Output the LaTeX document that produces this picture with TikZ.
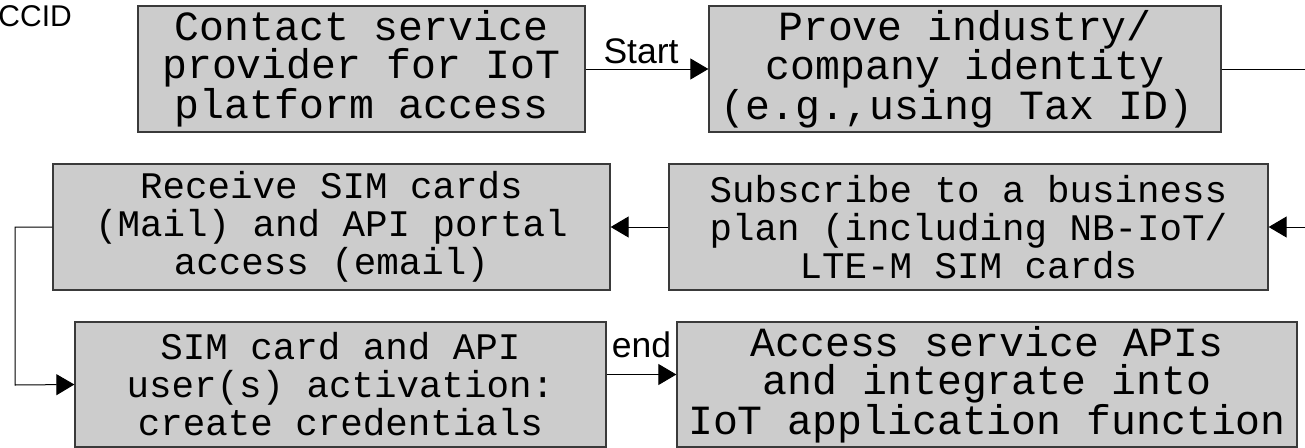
\documentclass[tikz,border=0pt]{standalone}
\usepackage{fontspec}
\newfontfamily\boxfont{Liberation Mono}
\newfontfamily\labfont{Liberation Sans}
\usetikzlibrary{arrows.meta}
\definecolor{boxfill}{HTML}{CCCCCC}
\definecolor{boxline}{HTML}{3A3A3A}
\tikzset{
  stepbox/.style={draw=boxline, line width=1.3pt, fill=boxfill, inner sep=0pt,
    align=center, font=\boxfont\fontsize{41.5}{38}\selectfont, text=black},
  smallbox/.style={stepbox, font=\boxfont\fontsize{37.5}{38}\selectfont},
  link/.style={draw=black, line width=1pt},
  arr/.style={link, -{Triangle[length=18pt,width=21pt]}},
  lab/.style={font=\labfont\fontsize{35.5}{38}\selectfont, text=black, inner sep=0pt}
}
\begin{document}
\begin{tikzpicture}[x=1pt,y=-1pt]
\useasboundingbox (0,0) rectangle (1305,447);

% process steps
\node[stepbox, minimum width=447pt, minimum height=126pt] (b1) at (361.5,69)
  {Contact service\\provider for IoT\\platform access};
\node[stepbox, minimum width=512pt, minimum height=126pt] (b2) at (965,69)
  {Prove industry/\\company identity\\(e.g.,using Tax ID)\hspace*{16pt}};
\node[smallbox, minimum width=557pt, minimum height=126pt] (b3) at (331.5,227)
  {Receive SIM cards\\(Mail) and API portal\\access (email)};
\node[smallbox, minimum width=599pt, minimum height=126pt] (b4) at (968.5,227)
  {Subscribe to a business\\plan (including NB-IoT/\\LTE-M SIM cards};
\node[smallbox, minimum width=531pt, minimum height=125pt] (b5) at (340.5,384.5)
  {SIM card and API\\user(s) activation:\\create credentials};
\node[stepbox, minimum width=620pt, minimum height=125pt] (b6) at (987,384.5)
  {Access service APIs\\and integrate into\\IoT application function};

\node[lab, font=\labfont\fontsize{30}{34}\selectfont, anchor=base east] (ccid) at (72,27) {CCID};

% free ends of the connectors
\coordinate (outR) at (1305,69);
\coordinate (inR) at (1305,227);
\coordinate (turnA) at (15,227);
\coordinate (turnB) at (15,385);

\draw[arr] (b1.east) -- node[lab, anchor=base, xshift=-6pt, yshift=6pt] {Start} (b2.west);
\draw[link] (b2.east) -- (outR);
\draw[arr] (inR) -- (b4.east);
\draw[arr] (b4.west) -- (b3.east);
\draw[arr] (b3.west) -- (turnA) -- (turnB) -- (b5.west);
\draw[arr] ([yshift=10pt]b5.east) -- node[lab, anchor=base, yshift=17.5pt] {end} ([yshift=10pt]b6.west);
\end{tikzpicture}
\end{document}
